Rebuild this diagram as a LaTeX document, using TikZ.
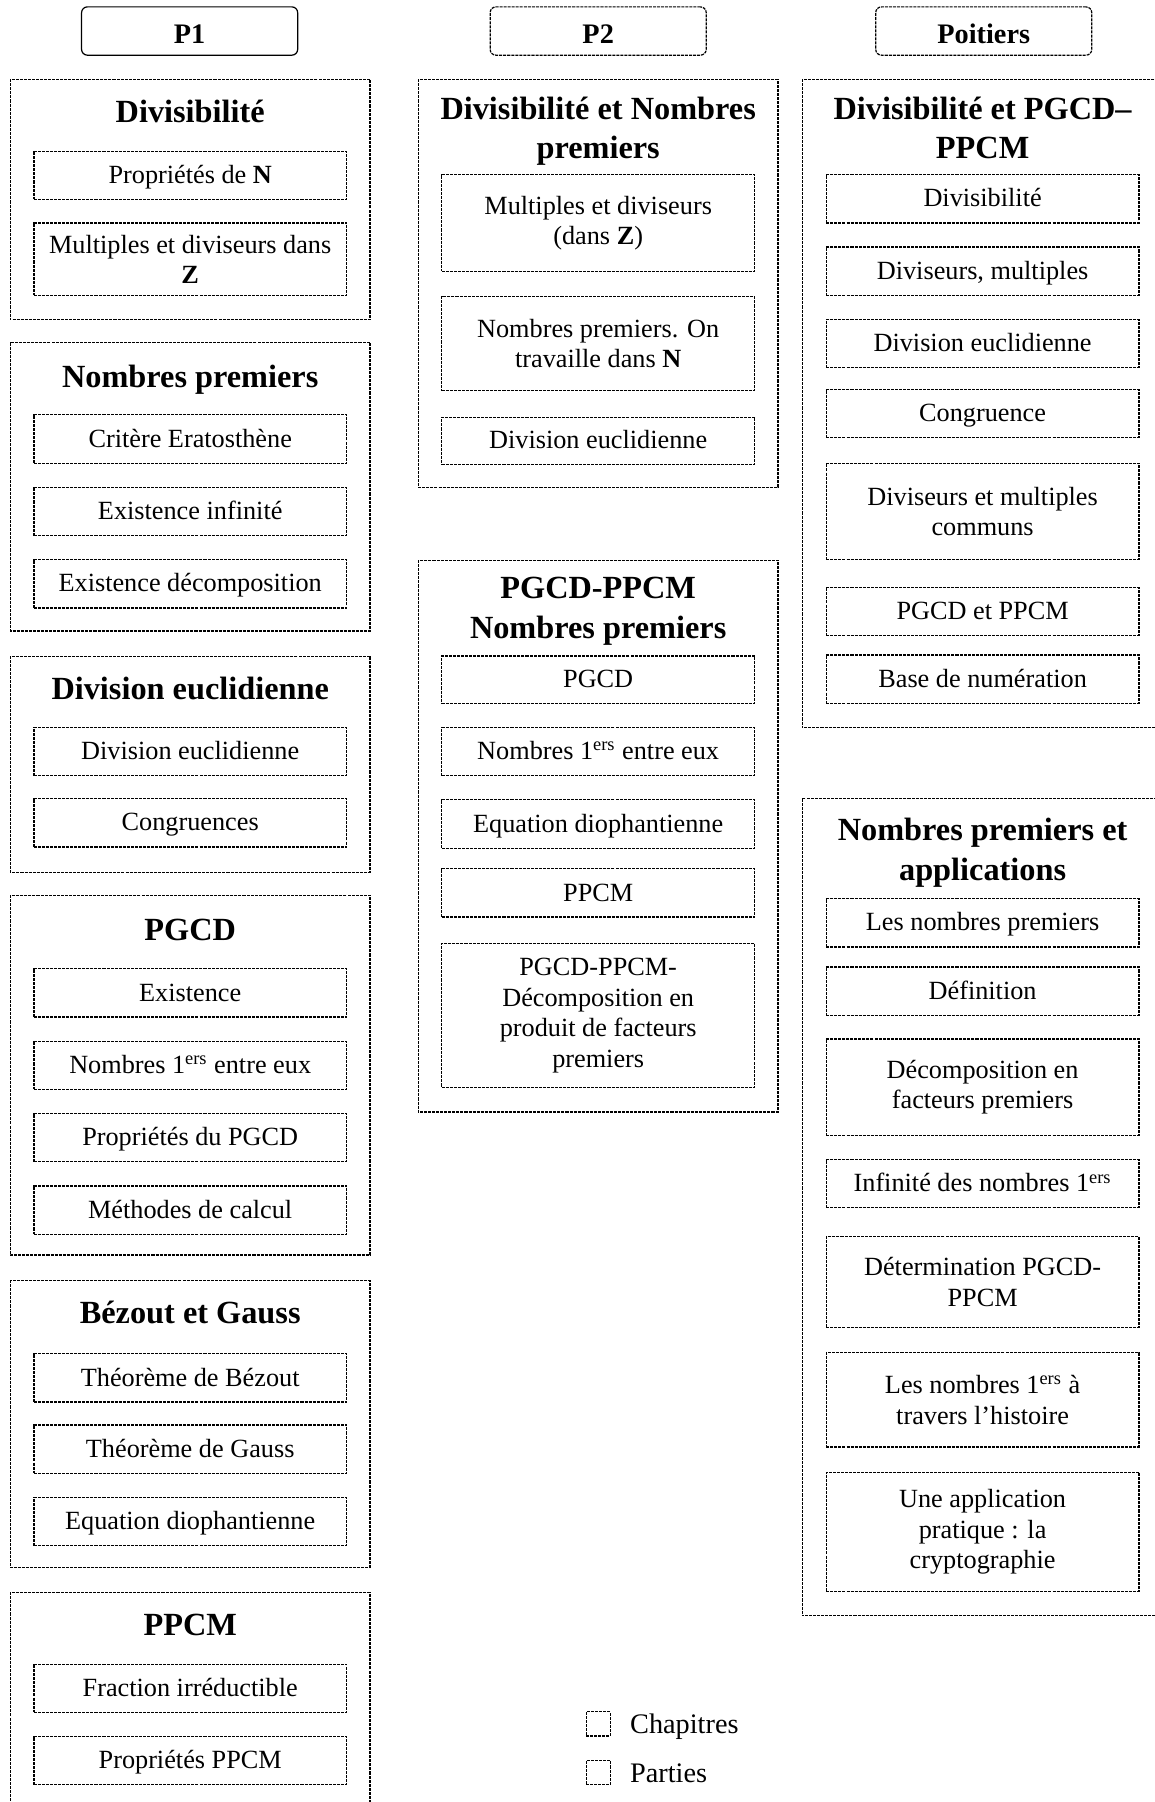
\documentclass[tikz,border=0pt]{standalone}
\usepackage{fontspec}
\setmainfont{Liberation Serif}
\begin{document}
\begin{tikzpicture}[x=0.2mm, y=-0.2mm,
		pointille/.style={line width=0.6pt, dash pattern=on 1.5pt off 0.5pt},
		partie/.style={draw, pointille},
		sujet/.style={draw, pointille, minimum width=54.4mm, minimum height=8.4mm, inner sep=0pt, align=center, font=\fontsize{13}{15.1}\selectfont},
		ligne/.style={sujet, text height=11pt, text depth=3pt},
		titre/.style={align=center, inner sep=0pt, font=\fontsize{16}{19.5}\selectfont\bfseries},
		entete/.style={draw, line width=0.6pt, rounded corners=1mm, minimum width=37.6mm, minimum height=8.4mm, inner sep=0pt, text height=12pt, text depth=0pt, font=\fontsize{14}{17}\selectfont\bfseries},
		legende/.style={inner sep=0pt, font=\fontsize{14}{17}\selectfont}]
		\useasboundingbox (0,0) rectangle (1005,1568);
		\clip (0,0) rectangle (1005,1568);
		\node[entete] (p1) at (165,27) {P1};
		\node[entete, pointille] (p2) at (520.5,27) {P2};
		\node[entete, pointille] (poitiers) at (856,27) {Poitiers};
		\draw[partie] (9,69) rectangle (322,278);
		\node[titre, anchor=base] (tA) at (165.5,107) {Divisibilité};
		\node[ligne] (a1) at (165.5,152.5) {Propriétés de \textbf{N}};
		\node[sujet, minimum height=12.6mm] (a2) at (165.5,225.5) {Multiples et diviseurs dans\\\textbf{Z}};
		\draw[partie] (9,298) rectangle (322,549);
		\node[titre, anchor=base] (tB) at (165.5,337) {Nombres premiers};
		\node[ligne] (b1) at (165.5,382) {Critère Eratosthène};
		\node[ligne] (b2) at (165.5,445) {Existence infinité};
		\node[ligne] (b3) at (165.5,508) {Existence décomposition};
		\draw[partie] (9,571) rectangle (322,759);
		\node[titre, anchor=base] (tC) at (165.5,609) {Division euclidienne};
		\node[ligne] (c1) at (165.5,654) {Division euclidienne};
		\node[ligne] (c2) at (165.5,716) {Congruences};
		\draw[partie] (9,779) rectangle (322,1092);
		\node[titre, anchor=base] (tD) at (165.5,818) {PGCD};
		\node[ligne] (d1) at (165.5,864) {Existence};
		\node[ligne] (d2) at (165.5,927) {Nombres 1\textsuperscript{ers} entre eux};
		\node[ligne] (d3) at (165.5,990) {Propriétés du PGCD};
		\node[ligne] (d4) at (165.5,1053) {Méthodes de calcul};
		\draw[partie] (9,1114) rectangle (322,1364);
		\node[titre, anchor=base] (tE) at (165.5,1152) {Bézout et Gauss};
		\node[ligne] (e1) at (165.5,1199) {Théorème de Bézout};
		\node[ligne] (e2) at (165.5,1261) {Théorème de Gauss};
		\node[ligne] (e3) at (165.5,1324) {Equation diophantienne};
		\draw[partie] (9,1385.5) rectangle (322,1600);
		\node[titre, anchor=base] (tF) at (165.5,1423) {PPCM};
		\node[ligne] (f1) at (165.5,1469) {Fraction irréductible};
		\node[ligne] (f2) at (165.5,1532) {Propriétés PPCM};
		\draw[partie] (364,69) rectangle (677,424);
		\node[titre] (tG) at (520.5,114) {Divisibilité et Nombres\\premiers};
		\node[sujet, minimum height=16.8mm] (g1) at (520.5,194) {Multiples et diviseurs\\(dans \textbf{Z})};
		\node[sujet, minimum height=16.4mm] (g2) at (520.5,299) {Nombres premiers. On\\travaille dans \textbf{N}};
		\node[ligne, minimum height=8.2mm] (g3) at (520.5,383.5) {Division euclidienne};
		\draw[partie] (364,487.5) rectangle (677,967.5);
		\node[titre] (tH) at (520.5,532) {PGCD-PPCM\\Nombres premiers};
		\node[ligne, minimum height=8.2mm] (h1) at (520.5,591.3) {PGCD};
		\node[ligne] (h2) at (520.5,654) {Nombres 1\textsuperscript{ers} entre eux};
		\node[ligne] (h3) at (520.5,717) {Equation diophantienne};
		\node[ligne] (h4) at (520.5,777) {PPCM};
		\node[sujet, minimum height=25mm] (h5) at (520.5,883.5) {PGCD-PPCM-\\Décomposition en\\produit de facteurs\\premiers};
		\draw[partie] (698,69) rectangle (1020,633);
		\node[titre] (tI) at (855,111.5) {Divisibilité et PGCD–\\PPCM};
		\node[ligne] (i1) at (855,173) {Divisibilité};
		\node[ligne] (i2) at (855,236) {Diviseurs, multiples};
		\node[ligne] (i3) at (855,299) {Division euclidienne};
		\node[ligne] (i4) at (855,360) {Congruence};
		\node[sujet, minimum height=16.8mm] (i5) at (855,445) {Diviseurs et multiples\\communs};
		\node[ligne] (i6) at (855,532) {PGCD et PPCM};
		\node[ligne] (i7) at (855,591) {Base de numération};
		\draw[partie] (698,695) rectangle (1020,1406);
		\node[titre] (tJ) at (855,742) {Nombres premiers et\\applications};
		\node[ligne] (j1) at (855,803) {Les nombres premiers};
		\node[ligne] (j2) at (855,862.5) {Définition};
		\node[sujet, minimum height=16.8mm] (j3) at (855,946) {Décomposition en\\facteurs premiers};
		\node[ligne] (j4) at (855,1030) {Infinité des nombres 1\textsuperscript{ers}};
		\node[sujet, minimum height=15.8mm] (j5) at (855,1115.5) {Détermination PGCD-\\PPCM};
		\node[sujet, minimum height=16.4mm] (j6) at (855,1218) {Les nombres 1\textsuperscript{ers} à\\travers l’histoire};
		\node[sujet, minimum height=20.8mm] (j7) at (855,1333) {Une application\\pratique : la\\cryptographie};
		\node[draw, pointille, minimum size=4.2mm, inner sep=0pt] (cle1) at (520.5,1500) {};
		\node[draw, pointille, minimum size=4.2mm, inner sep=0pt] (cle2) at (520.5,1542.5) {};
		\node[legende, anchor=base west] (chapitres) at (548,1508) {Chapitres};
		\node[legende, anchor=base west] (parties) at (548,1550.6) {Parties};
\end{tikzpicture}
\end{document}
